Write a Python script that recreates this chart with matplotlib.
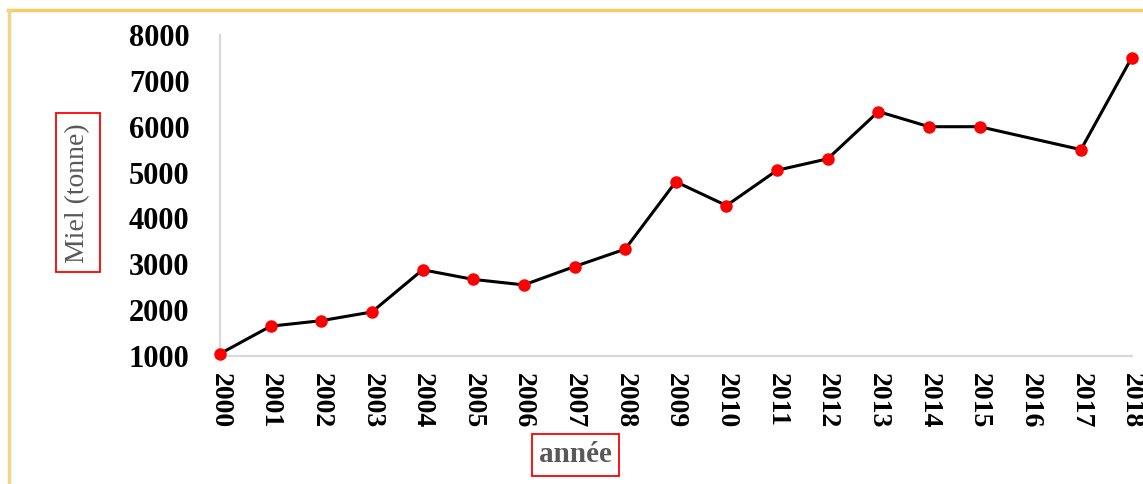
import numpy as np
import matplotlib
matplotlib.use('Agg')
import matplotlib.pyplot as plt
from matplotlib.lines import Line2D

# honey production (tonnes); no value reported for 2016
years = [2000, 2001, 2002, 2003, 2004, 2005, 2006, 2007, 2008, 2009,
         2010, 2011, 2012, 2013, 2014, 2015, 2017, 2018]
honey = [1050, 1650, 1770, 1960, 2880, 2670, 2550, 2950, 3330, 4800,
         4280, 5050, 5300, 6330, 6000, 6000, 5500, 7500]
tick_years = list(range(2000, 2019))
yticks = [1000, 2000, 3000, 4000, 5000, 6000, 7000, 8000]

plt.rcParams['font.family'] = ['Liberation Serif', 'DejaVu Serif']

fig = plt.figure(figsize=(11.43, 4.84), dpi=100)
ax = fig.add_axes([0.1925, 0.2645, 0.7975, 0.6632])

ax.plot(years, honey, color='black', lw=2.2, marker='o', ms=8,
        mfc='red', mec='red', clip_on=False, zorder=3)

ax.set_xlim(2000, 2018)
ax.set_ylim(1000, 8000)
ax.set_xticks(tick_years)
ax.set_xticklabels([str(y) for y in tick_years], rotation=270,
                   fontsize=20, fontweight='bold')
ax.set_yticks(yticks)
ax.set_yticklabels([str(v) for v in yticks], fontsize=22, fontweight='bold')
ax.tick_params(axis='y', length=0, pad=22)
ax.tick_params(axis='x', length=0, pad=12)

for s in ['top', 'right']:
    ax.spines[s].set_visible(False)
for s in ['left', 'bottom']:
    ax.spines[s].set_color('#d9d9d9')
    ax.spines[s].set_linewidth(1.6)

ax.set_ylabel('Miel (tonne)', fontsize=20, color='#595959', va='center',
              bbox=dict(boxstyle='square,pad=0.35', fc='white', ec='red', lw=1.3))
ax.yaxis.set_label_coords(-0.156, 0.508)
ax.set_xlabel('année', fontsize=21, fontweight='bold', color='#595959',
              va='center',
              bbox=dict(boxstyle='square,pad=0.25', fc='white', ec='red', lw=1.3))
ax.xaxis.set_label_coords(0.390, -0.308)

# orange frame at top and left of the picture
fig.add_artist(Line2D([0.007, 1.0], [0.980, 0.980], color='#f4cd6a', lw=2.5))
fig.add_artist(Line2D([0.0075, 0.0075], [0.0, 0.980], color='#f0d68c', lw=2.5))

fig.savefig('out.png', dpi=100)
